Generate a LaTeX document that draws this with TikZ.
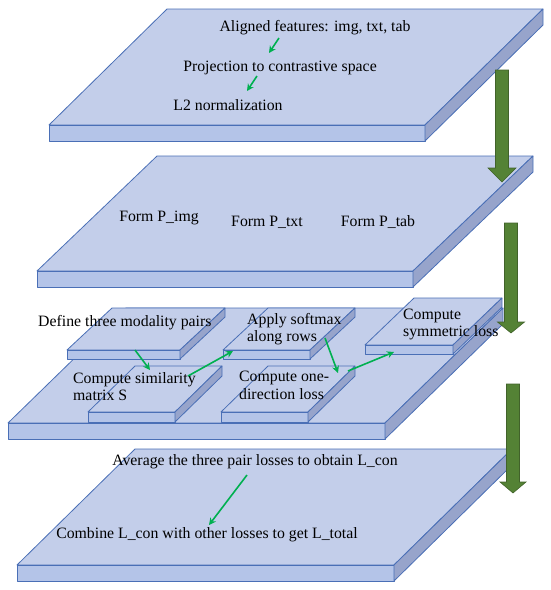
\documentclass[tikz,border=0pt]{standalone}
\usepackage{fontspec}
\setmainfont{Liberation Serif}
\usepackage{tikz}
\usetikzlibrary{arrows.meta}

\definecolor{facetop}{HTML}{C3CEEA}
\definecolor{facefront}{HTML}{B4C4E8}
\definecolor{faceside}{HTML}{97A4CB}
\definecolor{faceedge}{HTML}{4A6FB6}
\definecolor{bigGreen}{HTML}{548235}
\definecolor{bigGreenEdge}{HTML}{41622A}
\definecolor{smallGreen}{HTML}{00B050}

%% plate: front-left x, front-top y, width, depth dx, depth dy, thickness
\newcommand{\plate}[6]{%
  \filldraw[platetop] (#1,#2) -- ({#1+#3},#2) -- ({#1+#3+#4},{#2-#5}) -- ({#1+#4},{#2-#5}) -- cycle;
  \filldraw[platefront] (#1,#2) rectangle ({#1+#3},{#2+#6});
  \filldraw[plateside] ({#1+#3},#2) -- ({#1+#3+#4},{#2-#5}) -- ({#1+#3+#4},{#2-#5+#6}) -- ({#1+#3},{#2+#6}) -- cycle;
}
%% big arrow: centre x, top, head top, tip, shaft half width, head half width
\newcommand{\bigdown}[6]{%
  \filldraw[bigarrow] ({#1-#5},#2) -- ({#1+#5},#2) -- ({#1+#5},#3) -- ({#1+#6},#3)
    -- (#1,#4) -- ({#1-#6},#3) -- ({#1-#5},#3) -- cycle;
}

\begin{document}
\begin{tikzpicture}[x=1pt,y=-1pt]

		\tikzstyle{platetop}   = [fill=facetop, draw=faceedge, line width=0.8pt, line join=round]
		\tikzstyle{platefront} = [fill=facefront, draw=faceedge, line width=0.8pt, line join=round]
		\tikzstyle{plateside}  = [fill=faceside, draw=faceedge, line width=0.8pt, line join=round]
		\tikzstyle{bigarrow}   = [fill=bigGreen, draw=bigGreenEdge, line width=0.6pt]
		\tikzstyle{plaintext}  = [inner sep=0pt, font=\fontsize{15.8}{17.5}\selectfont]
		\tikzstyle{flow}       = [draw=smallGreen, line width=1.6pt, -{Stealth[length=7pt,width=7pt]}]

		\useasboundingbox (0,0) rectangle (550,590);

		%%Plates
		\plate{49}{125}{376}{118}{116}{16}
		\plate{37}{271}{376}{120}{115}{16}
		\plate{8}{423}{377}{118}{115}{16}
		\plate{67}{350}{113}{45}{42}{9}
		\plate{223}{350}{87}{45}{42}{9}
		\plate{365}{345}{88}{49}{47}{9}
		\plate{88}{412}{87}{47}{46}{10}
		\plate{221}{412}{87}{47}{46}{10}
		\plate{17}{565}{377}{118}{116}{16}

		%%Big arrows
		\bigdown{502}{70}{168}{182}{6.5}{14}
		\bigdown{511}{223}{322}{333}{6.5}{13.5}
		\bigdown{513}{384}{482}{493}{6.5}{13}

		%%Texts
		\node [plaintext](aligned) at (315,28) {Aligned features: img, txt, tab};
		\node [plaintext](project) at (280,68) {Projection to contrastive space};
		\node [plaintext](norm) at (228,105) {L2 normalization};
		\node [plaintext](pimg) at (159,218) {Form P\_img};
		\node [plaintext](ptxt) at (267,222) {Form P\_txt};
		\node [plaintext](ptab) at (378,222) {Form P\_tab};
		\node [plaintext, anchor=west](pairs) at (38,323) {Define three modality pairs};
		\node [plaintext, anchor=west, align=left](softmax) at (247,329) {Apply softmax\\along rows};
		\node [plaintext, anchor=west, align=left](symm) at (403,324.5) {Compute\\symmetric loss};
		\node [plaintext, anchor=west, align=left](simil) at (73,386.5) {Compute similarity\\matrix S};
		\node [plaintext, anchor=west, align=left](onedir) at (239,385.5) {Compute one-\\direction loss};
		\node [plaintext](average) at (255,462) {Average the three pair losses to obtain L\_con};
		\node [plaintext](combine) at (207,535) {Combine L\_con with other losses to get L\_total};

		%%Arrow ends
		\coordinate (f1a) at (279,38);  \coordinate (f1b) at (269,53);
		\coordinate (f2a) at (257,76);  \coordinate (f2b) at (247,91);
		\coordinate (f3a) at (135,350); \coordinate (f3b) at (150,370);
		\coordinate (f4a) at (188,376); \coordinate (f4b) at (233,351);
		\coordinate (f5a) at (325,338); \coordinate (f5b) at (338,373);
		\coordinate (f6a) at (348,371); \coordinate (f6b) at (394,352);
		\coordinate (f7a) at (247,475); \coordinate (f7b) at (209,525);

		%%Small arrows
		\draw [flow] (f1a)--(f1b);
		\draw [flow] (f2a)--(f2b);
		\draw [flow] (f3a)--(f3b);
		\draw [flow] (f4a)--(f4b);
		\draw [flow] (f5a)--(f5b);
		\draw [flow] (f6a)--(f6b);
		\draw [flow] (f7a)--(f7b);
	\end{tikzpicture}
\end{document}
